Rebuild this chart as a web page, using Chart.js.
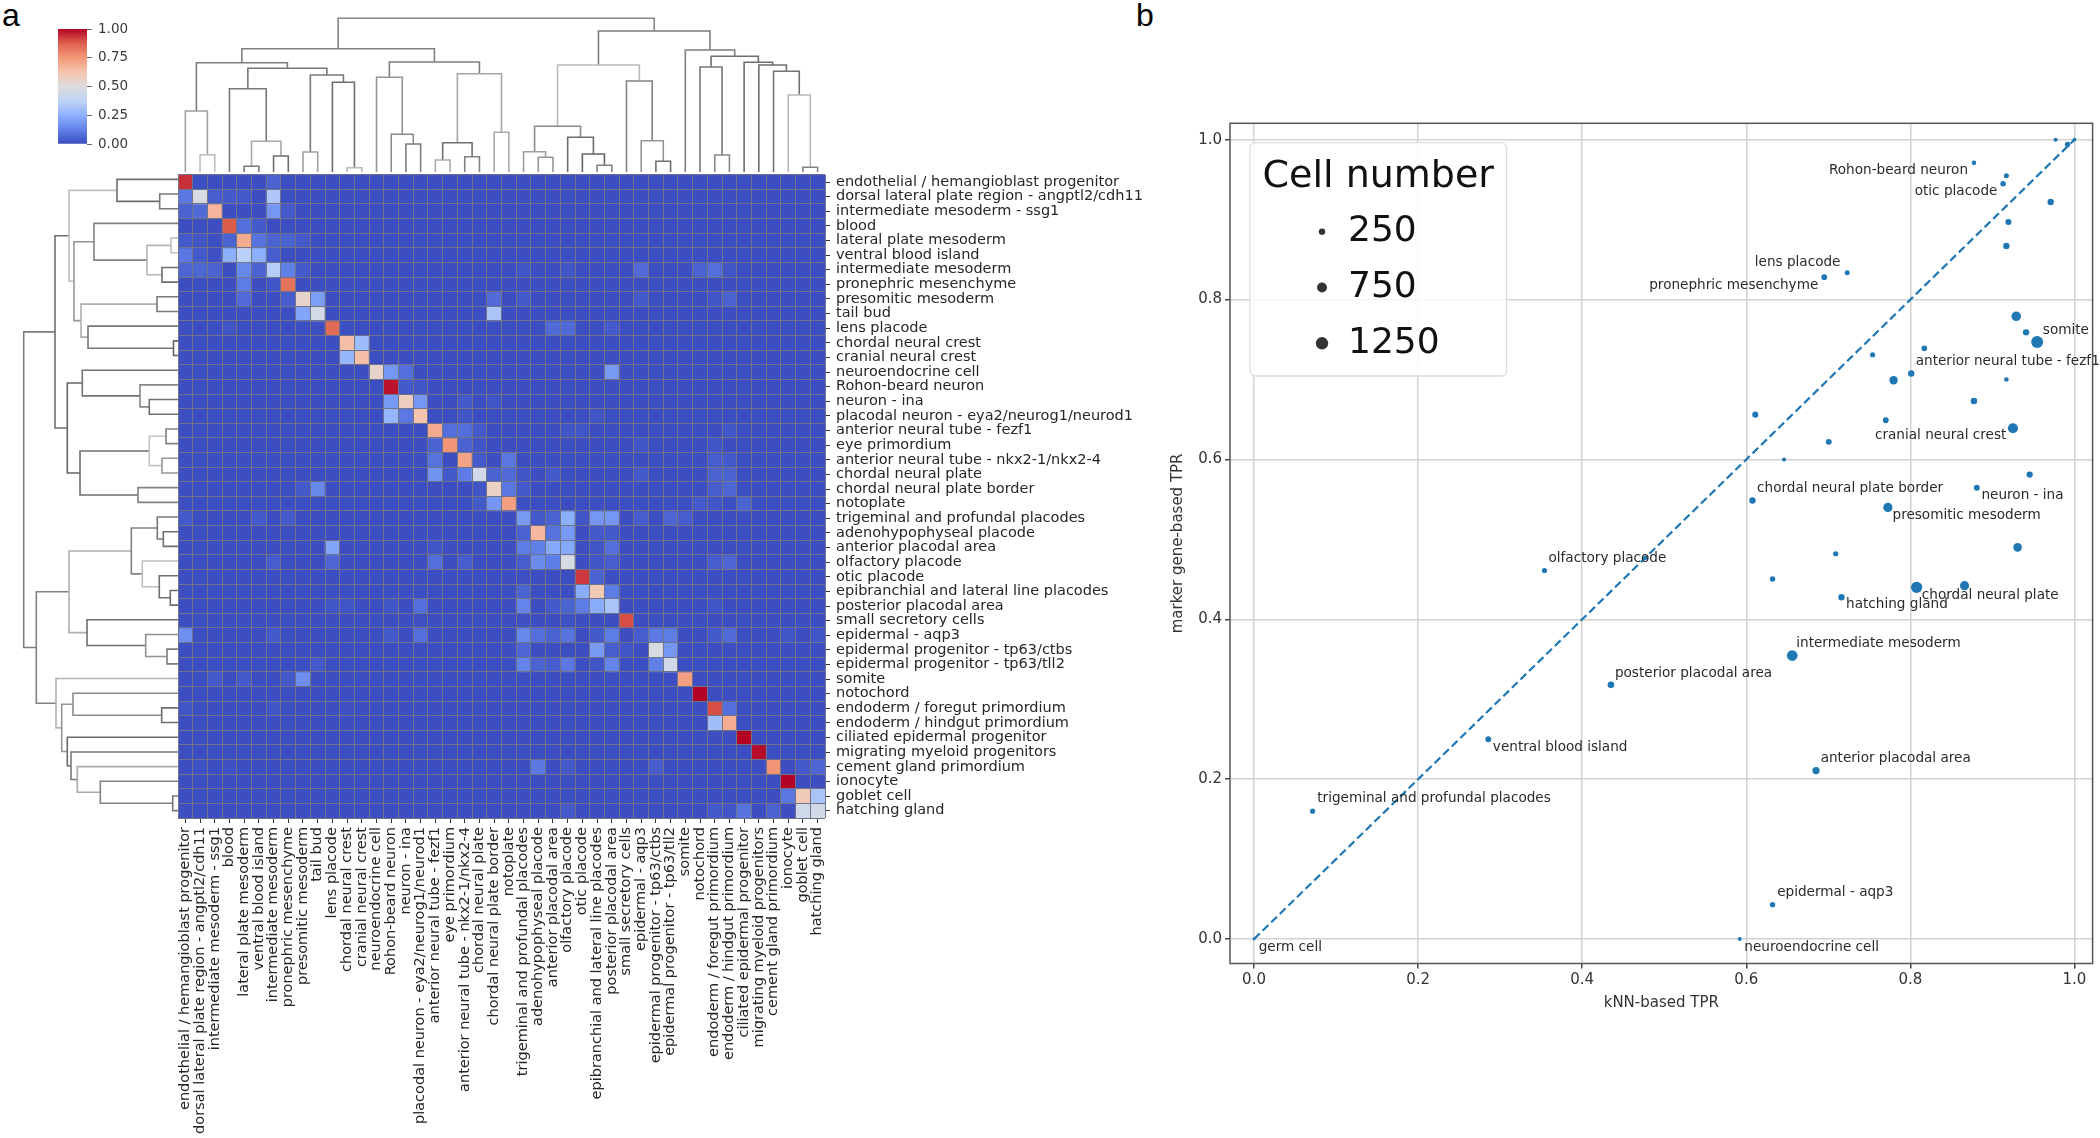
<!DOCTYPE html>
<html><head><meta charset="utf-8">
<script src="https://cdn.jsdelivr.net/npm/chart.js@4"></script>
<style>
html,body{margin:0;padding:0;background:#fff;width:2100px;height:1138px;overflow:hidden}
canvas{position:absolute;filter:blur(0.45px)}
.tag{position:absolute;font:32px "Liberation Sans",sans-serif;color:#000;line-height:32px}
</style></head><body>
<div class="tag" style="left:2px;top:-1px">a</div>
<div class="tag" style="left:1136px;top:-1px">b</div>
<canvas id="cb" width="90" height="160" style="left:50px;top:5px"></canvas>
<canvas id="top" width="647" height="172" style="left:178px;top:0"></canvas>
<canvas id="left" width="178" height="646" style="left:0;top:172px"></canvas>
<canvas id="hm" width="980" height="974" style="left:166px;top:160px"></canvas>
<canvas id="sc" width="935" height="920" style="left:1165px;top:100px"></canvas>
<script>
const cellTypes = ["endothelial / hemangioblast progenitor","dorsal lateral plate region - angptl2/cdh11","intermediate mesoderm - ssg1","blood","lateral plate mesoderm","ventral blood island","intermediate mesoderm","pronephric mesenchyme","presomitic mesoderm","tail bud","lens placode","chordal neural crest","cranial neural crest","neuroendocrine cell","Rohon-beard neuron","neuron - ina","placodal neuron - eya2/neurog1/neurod1","anterior neural tube - fezf1","eye primordium","anterior neural tube - nkx2-1/nkx2-4","chordal neural plate","chordal neural plate border","notoplate","trigeminal and profundal placodes","adenohypophyseal placode","anterior placodal area","olfactory placode","otic placode","epibranchial and lateral line placodes","posterior placodal area","small secretory cells","epidermal - aqp3","epidermal progenitor - tp63/ctbs","epidermal progenitor - tp63/tll2","somite","notochord","endoderm / foregut primordium","endoderm / hindgut primordium","ciliated epidermal progenitor","migrating myeloid progenitors","cement gland primordium","ionocyte","goblet cell","hatching gland"];

const heatBaseline = 0.005;
// [row, column, value] for every cell that is visibly above the baseline
const heatCells = [
[0,0,.94],[0,6,.05],
[1,0,.10],[1,1,.47],[1,2,.04],[1,3,.03],[1,4,.03],[1,6,.33],
[2,0,.05],[2,1,.07],[2,2,.67],[2,6,.18],[2,7,.03],
[3,3,.88],[3,4,.08],[3,5,.03],
[4,0,.03],[4,1,.02],[4,3,.05],[4,4,.70],[4,5,.09],[4,6,.05],[4,7,.05],[4,8,.03],
[5,0,.10],[5,1,.03],[5,2,.01],[5,3,.25],[5,4,.36],[5,5,.25],[5,6,.04],
[6,0,.06],[6,1,.06],[6,2,.05],[6,4,.14],[6,5,.05],[6,6,.35],[6,7,.12],[6,8,.03],[6,23,.02],[6,26,.02],[6,31,.07],[6,35,.05],[6,36,.08],[6,37,.02],
[7,4,.11],[7,6,.02],[7,7,.83],
[8,4,.07],[8,7,.04],[8,8,.55],[8,9,.20],[8,21,.07],[8,23,.03],[8,31,.03],[8,36,.02],[8,37,.05],
[9,8,.22],[9,9,.46],[9,21,.32],
[10,3,.02],[10,10,.85],[10,25,.07],[10,26,.07],[10,29,.03],
[11,11,.64],[11,12,.29],
[12,11,.27],[12,12,.64],
[13,13,.55],[13,14,.18],[13,15,.08],[13,29,.19],
[14,14,.98],[14,15,.03],[14,16,.02],
[15,14,.19],[15,15,.58],[15,16,.18],[15,19,.03],[15,21,.02],
[16,14,.27],[16,15,.10],[16,16,.62],[16,19,.02],[16,28,.02],
[17,17,.70],[17,18,.08],[17,19,.08],[17,20,.03],[17,26,.02],[17,27,.02],[17,37,.02],
[18,17,.05],[18,18,.76],[18,19,.05],[18,20,.02],[18,31,.02],[18,36,.02],
[19,17,.09],[19,19,.72],[19,20,.03],[19,22,.10],[19,36,.04],[19,37,.03],
[20,17,.17],[20,18,.03],[20,19,.11],[20,20,.44],[20,21,.05],[20,22,.07],[20,23,.02],[20,25,.03],[20,31,.03],[20,36,.05],[20,37,.05],
[21,8,.03],[21,9,.14],[21,20,.02],[21,21,.56],[21,22,.10],[21,23,.03],[21,36,.04],[21,37,.06],
[22,20,.03],[22,21,.18],[22,22,.73],[22,35,.03],[22,36,.02],[22,38,.05],
[23,0,.03],[23,5,.03],[23,7,.03],[23,23,.19],[23,24,.03],[23,25,.05],[23,26,.25],[23,27,.02],[23,28,.18],[23,29,.18],[23,31,.04],[23,33,.06],[23,34,.04],
[24,23,.05],[24,24,.66],[24,25,.09],[24,26,.19],[24,28,.03],[24,29,.03],
[25,10,.22],[25,17,.02],[25,23,.11],[25,24,.12],[25,25,.23],[25,26,.23],[25,28,.02],[25,29,.08],
[26,6,.04],[26,10,.06],[26,17,.08],[26,19,.04],[26,23,.04],[26,24,.15],[26,25,.11],[26,26,.47],[26,28,.02],[26,29,.04],[26,36,.04],[26,37,.06],
[27,23,.01],[27,27,.93],[27,28,.05],
[28,23,.05],[28,27,.24],[28,28,.60],[28,29,.11],
[29,10,.02],[29,11,.02],[29,14,.02],[29,16,.08],[29,23,.13],[29,25,.03],[29,26,.05],[29,27,.11],[29,28,.24],[29,29,.32],[29,36,.02],
[30,16,.01],[30,23,.01],[30,26,.01],[30,30,.90],
[31,0,.16],[31,6,.03],[31,14,.03],[31,16,.08],[31,23,.14],[31,24,.08],[31,25,.05],[31,26,.09],[31,28,.03],[31,29,.11],[31,31,.04],[31,32,.10],[31,33,.11],[31,36,.03],[31,37,.07],[31,41,.02],[31,43,.02],
[32,23,.06],[32,28,.19],[32,29,.04],[32,30,.02],[32,32,.48],[32,33,.18],
[33,9,.03],[33,23,.13],[33,24,.05],[33,25,.04],[33,26,.10],[33,28,.02],[33,29,.13],[33,32,.12],[33,33,.44],
[34,2,.03],[34,4,.03],[34,7,.03],[34,8,.16],[34,34,.73],
[35,35,1],
[36,0,.02],[36,6,.02],[36,11,.01],[36,36,.90],[36,37,.08],
[37,36,.30],[37,37,.69],
[38,38,1],
[39,39,.99],
[40,1,.01],[40,3,.01],[40,24,.10],[40,26,.03],[40,32,.04],[40,40,.76],[40,42,.03],[40,43,.06],
[41,41,1],
[42,41,.10],[42,42,.60],[42,43,.32],
[43,26,.03],[43,36,.03],[43,37,.02],[43,38,.09],[43,40,.05],[43,42,.43],[43,43,.45]
];

// dendrograms in linkage form: [childA, childB, height, grey]; ids from 44 are earlier merges
const topLinks = [
[1,2,17.3,190],[0,44,61,160],[4,5,5.7,120],[6,7,16,110],[46,47,30.7,170],[3,48,83.3,120],[8,9,20,160],[11,12,4.3,185],[10,51,89.7,110],[50,52,97,120],[49,53,103.7,120],[45,54,109.3,125],
[15,16,28,125],[14,56,37.7,140],[13,57,94.7,150],[17,18,12,170],[19,20,15.3,130],[59,60,29.3,110],[21,22,39.7,170],[61,62,98.3,165],[58,63,110,125],[55,64,123.3,130],
[24,25,14.7,150],[23,66,20.3,160],[28,29,6.7,130],[27,68,18,100],[26,69,34.7,110],[67,70,45.7,140],[32,33,10.7,110],[31,72,31.3,150],[30,73,91,130],[71,74,107,185],
[36,37,17,135],[35,76,105,120],[42,43,4.7,130],[41,78,77,185],[40,79,100.7,115],[39,80,107,110],[38,81,109.7,110],[77,82,115.7,110],[34,83,122,125],[75,84,141,125],[65,85,153.7,135]
];
const leftLinks = [
[1,2,18.3,120],[0,44,61,110],[4,5,7,190],[6,7,16,110],[46,47,31,180],[3,48,84,130],[8,9,21,120],[11,12,4.5,100],[10,51,90,120],[50,52,97,175],[49,53,104,150],[45,54,109,190],
[15,16,28.7,110],[14,56,38,135],[13,57,95.7,115],[17,18,12,130],[19,20,16,150],[59,60,28.7,195],[21,22,40,130],[61,62,98,110],[58,63,110.7,100],[55,64,123,110],
[24,25,14.7,110],[23,66,20.7,120],[28,29,7.7,110],[27,68,18.7,110],[26,69,35.7,190],[67,70,46.7,130],[32,33,11,125],[31,72,32.3,145],[30,73,91,110],[71,74,109,175],
[36,37,16.3,110],[35,76,105,140],[42,43,5.3,120],[41,78,77.7,130],[40,79,100.7,170],[39,80,107,120],[38,81,110.7,105],[77,82,116.3,150],[34,83,122,180],[75,84,141.7,130],[65,85,154.3,125]
];

const barTicks = [0,0.25,0.5,0.75,1];
const axisTicks = [0,0.2,0.4,0.6,0.8,1];
const knnTPR = [.977,.9916,1,.8775,.917,.913,.971,.9195,.917,.723,.695,.929,.941,.9545,.754,.817,.801,.7795,.917,.8775,.611,.770,.925,.7005,.646,.9454,.881,.6075,.7726,.9307,.709,.354,.632,.8076,.866,.716,.656,.435,.2855,.685,.0714,.632,.592,0,.477];
const markerTPR = [1,.994,1,.971,.955,.945,.922,.897,.867,.8335,.828,.779,.759,.747,.731,.739,.7075,.699,.70,.673,.656,.649,.639,.622,.60,.581,.5645,.5486,.540,.490,.482,.461,.4505,.440,.442,.4276,.3546,.318,.25,.2107,.16,.043,0,0,.477];
const cellNumber = [100,200,80,130,170,210,300,270,300,170,230,760,300,1250,180,230,300,560,140,320,270,240,870,250,100,290,250,300,700,610,180,180,210,1090,700,300,970,330,250,400,180,200,90,40,130];
// [point index, text]
const pointNames = [[3,"Rohon-beard neuron"],[5,"otic placode"],[9,"lens placode"],[10,"pronephric mesenchyme"],[13,"somite"],[15,"anterior neural tube - fezf1"],[22,"cranial neural crest"],[27,"chordal neural plate border"],[26,"neuron - ina"],[28,"presomitic mesoderm"],[31,"olfactory placode"],[33,"chordal neural plate"],[35,"hatching gland"],[36,"intermediate mesoderm"],[37,"posterior placodal area"],[38,"ventral blood island"],[39,"anterior placodal area"],[40,"trigeminal and profundal placodes"],[41,"epidermal - aqp3"],[42,"neuroendocrine cell"],[43,"germ cell"]];
// pixel offsets of those texts from their points
const nameOffsets = [[-145,8],[-88.4,8],[-92.4,-10.7],[-175,8],[5.7,-11.7],[-8.6,13],[-138,7.3],[4.6,-11.7],[4.6,8],[4.6,8.3],[4,-12.3],[5.2,8.3],[4.6,7.3],[4,-11.7],[4,-11.7],[4.6,8],[4.6,-12.3],[4.6,-12.7],[4.6,-12.3],[4.6,8.3],[4.6,8.3]];
const legendSizes = [250,750,1250];

const stops=[[59,76,192],[98,130,234],[141,176,254],[192,212,245],[221,221,221],[245,196,173],[244,152,122],[222,96,77],[180,4,38]];
function coolwarm(v){const t=Math.max(0,Math.min(1,v))*8,i=Math.min(7,Math.floor(t)),f=t-i,a=stops[i],b=stops[i+1];
 return `rgb(${a.map((c,k)=>Math.round(c+(b[k]-c)*f)).join(',')})`;}
Chart.defaults.animation=false;
Chart.defaults.responsive=false;
Chart.defaults.font.family='"DejaVu Sans"';
Chart.defaults.plugins.legend.display=false;
Chart.defaults.plugins.tooltip.enabled=false;

// colour bar
new Chart(document.getElementById('cb'),{type:'bar',
 data:{labels:[''],datasets:[{data:[[0,1]],barPercentage:1,categoryPercentage:1,
  backgroundColor(c){const a=c.chart.chartArea;if(!a)return '#888';const g=c.chart.ctx.createLinearGradient(0,a.bottom,0,a.top);stops.forEach((s,i)=>g.addColorStop(i/8,`rgb(${s})`));return g;}}]},
 options:{layout:{padding:{left:8,top:24,bottom:21,right:0}},
  scales:{x:{display:false},
   y:{position:'right',min:0,max:1,afterBuildTicks(s){s.ticks=barTicks.map(v=>({value:v}));},afterFit(s){s.width=53;},
    grid:{drawOnChartArea:false,tickLength:5,tickColor:'#666'},border:{display:false},
    ticks:{padding:6,color:'#3a3a3a',font:{size:13.5},callback:v=>v.toFixed(2)}}}}});

// dendrograms
function dendroDatasets(links,map){const pos=[],h=[];for(let i=0;i<44;i++){pos[i]=i+.5;h[i]=0;}
 return links.map((l,n)=>{const[a,b,H,g]=l,id=44+n;pos[id]=(pos[a]+pos[b])/2;h[id]=H;
  return{data:[map(pos[a],h[a]),map(pos[a],H),map(pos[b],H),map(pos[b],h[b])],showLine:true,pointRadius:0,borderColor:`rgb(${g},${g},${g})`,borderWidth:1.6,tension:0};});}
new Chart(document.getElementById('top'),{type:'scatter',data:{datasets:dendroDatasets(topLinks,(p,h)=>({x:p,y:h}))},
 options:{layout:{padding:0},scales:{x:{display:false,min:0,max:44},y:{display:false,min:0,max:172}}}});
new Chart(document.getElementById('left'),{type:'scatter',data:{datasets:dendroDatasets(leftLinks,(p,h)=>({x:h,y:p}))},
 options:{layout:{padding:0},scales:{x:{display:false,min:0,max:178,reverse:true},y:{display:false,min:0,max:44,reverse:true}}}});

// heat map
const heat=cellTypes.map(()=>cellTypes.map(()=>heatBaseline));
heatCells.forEach(([r,c,v])=>{heat[r][c]=v;});
const gridGrey='rgb(112,116,135)';
new Chart(document.getElementById('hm'),{type:'bar',
 data:{labels:cellTypes,datasets:heat.map((row,r)=>({data:row.map(()=>[r,r+1]),backgroundColor:row.map(coolwarm),borderWidth:0,barPercentage:1,categoryPercentage:1,grouped:false,yAxisID:'rows',xAxisID:'x'}))},
 options:{layout:{padding:{left:12,top:12,right:0,bottom:0}},
  scales:{
   rows:{axis:'y',type:'linear',display:false,min:0,max:44,reverse:true},
   x:{axis:'x',type:'category',position:'bottom',labels:cellTypes,offset:true,afterFit(s){s.height=974-12-646;},
    grid:{offset:false,drawOnChartArea:false,tickLength:5,tickColor:'#333'},border:{display:false},
    ticks:{autoSkip:false,minRotation:90,maxRotation:90,padding:4,color:'#262626',font:{size:14.5}}},
   xg:{axis:'x',type:'category',position:'bottom',labels:cellTypes,offset:true,afterFit(s){s.height=0;},
    grid:{offset:true,z:1,color:gridGrey,lineWidth:1,drawTicks:false},border:{display:false},ticks:{display:false}},
   yl:{axis:'y',type:'category',position:'right',labels:cellTypes,offset:true,afterFit(s){s.width=980-12-647;},
    grid:{offset:false,drawOnChartArea:false,tickLength:5,tickColor:'#333'},border:{display:false},
    ticks:{autoSkip:false,padding:6,color:'#262626',font:{size:14.5},crossAlign:'near'}},
   yg:{axis:'y',type:'category',position:'right',labels:cellTypes,offset:true,afterFit(s){s.width=0;},
    grid:{offset:true,z:1,color:gridGrey,lineWidth:1,drawTicks:false},border:{display:false},ticks:{display:false}}
  }}});

// scatter panel
const radiusOf=n=>0.5+0.155*Math.sqrt(n);
const scatterPoints=knnTPR.map((x,i)=>({x,y:markerTPR[i],r:radiusOf(cellNumber[i])}));
const annotate={id:'annotate',afterDatasetsDraw(ch){const{ctx,chartArea:a,scales:{x,y}}=ch;ctx.save();
 ctx.strokeStyle='#555';ctx.lineWidth=1.5;ctx.strokeRect(a.left,a.top,a.width,a.height);
 ctx.font='13.6px "DejaVu Sans"';ctx.fillStyle='#2a2a2a';ctx.textAlign='left';ctx.textBaseline='middle';
 pointNames.forEach(([i,t],k)=>{const p=scatterPoints[i];ctx.fillText(t,x.getPixelForValue(p.x)+nameOffsets[k][0],y.getPixelForValue(p.y)+nameOffsets[k][1]);});
 // size legend
 const L=1250-1165,T=142.7-100,W=256.5,H=233.3;
 ctx.beginPath();ctx.roundRect(L,T,W,H,5);ctx.fillStyle='rgba(255,255,255,.85)';ctx.fill();ctx.strokeStyle='#dcdcdc';ctx.lineWidth=1.3;ctx.stroke();
 ctx.fillStyle='#111';ctx.font='38px "DejaVu Sans"';ctx.textAlign='center';ctx.fillText('Cell number',L+W/2,T+34);
 ctx.textAlign='left';ctx.font='36px "DejaVu Sans"';
 legendSizes.forEach((s,i)=>{const cy=T+89+i*55.8;ctx.fillStyle='#333';ctx.beginPath();ctx.arc(L+72,cy,radiusOf(s)+.2,0,7);ctx.fill();ctx.fillStyle='#111';ctx.fillText(String(s),L+98,cy);});
 ctx.restore();}};
const pad={left:0,top:23.3,right:7.4,bottom:0};
new Chart(document.getElementById('sc'),{type:'bubble',
 data:{datasets:[
  {data:scatterPoints,backgroundColor:'#1f77b4',borderWidth:0,order:2},
  {type:'line',data:[{x:0,y:0},{x:1,y:1}],borderColor:'#1f77b4',borderWidth:2.2,borderDash:[8,4],pointRadius:0,order:1}]},
 options:{layout:{padding:pad},clip:false,
  scales:{
   x:{type:'linear',min:-0.0293,max:1.0221,afterBuildTicks(s){s.ticks=axisTicks.map(v=>({value:v}));},afterFit(s){s.height=920-863.5;},
    grid:{color:'#d2d2d2',lineWidth:1.5,tickLength:5,tickColor:'#444'},border:{display:false},
    ticks:{color:'#333',font:{size:15},padding:3,maxRotation:0,callback:v=>v.toFixed(1)},
    title:{display:true,text:'kNN-based TPR',color:'#333',font:{size:15},padding:{top:2,bottom:8}}},
   y:{type:'linear',min:-0.0306,max:1.0205,afterBuildTicks(s){s.ticks=axisTicks.map(v=>({value:v}));},afterFit(s){s.width=65;},
    grid:{color:'#d2d2d2',lineWidth:1.5,tickLength:5,tickColor:'#444'},border:{display:false},
    ticks:{color:'#333',font:{size:15},padding:3,callback:v=>v.toFixed(1)},
    title:{display:true,text:'marker gene-based TPR',color:'#333',font:{size:15},padding:{top:4,bottom:2}}}
  }},plugins:[annotate]});
</script>
</body></html>
